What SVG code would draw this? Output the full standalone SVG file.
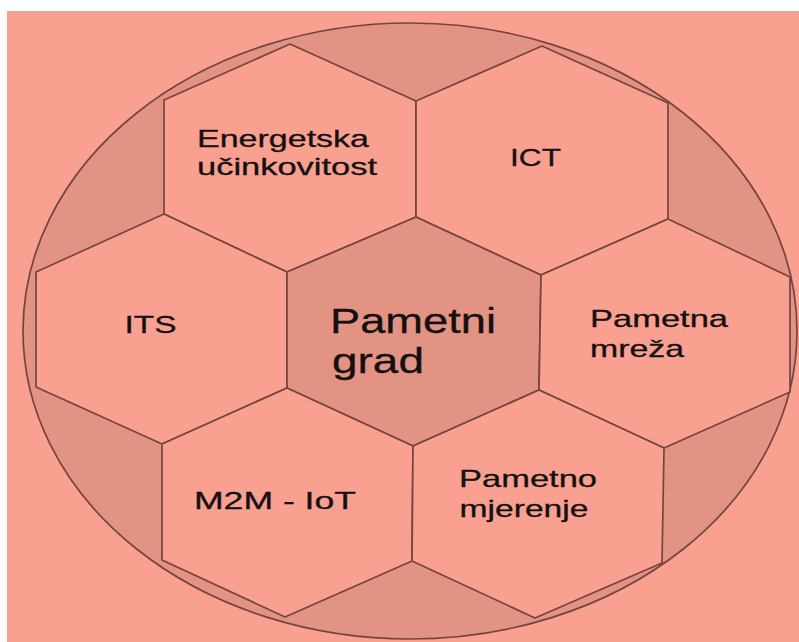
<svg xmlns="http://www.w3.org/2000/svg" width="799" height="642" viewBox="0 0 799 642">
<style>
.hex{fill:#F9A090;stroke:#74453F;stroke-width:1.7;stroke-linejoin:round}
.hexc{fill:#E39384;stroke:#74453F;stroke-width:1.7;stroke-linejoin:round}
.lbl{font-family:"Liberation Sans",Arial,sans-serif;font-size:24px;fill:#141010;stroke:#141010;stroke-width:0.3}
.big{font-family:"Liberation Sans",Arial,sans-serif;font-size:35px;fill:#141010;stroke:#141010;stroke-width:0.3}
</style>
<rect x="0" y="0" width="799" height="642" fill="#FFFFFF"/>
<rect x="7" y="11" width="792" height="631" fill="#F9A090"/>
<ellipse id="ball" cx="410" cy="331" rx="387" ry="308" fill="#E39384" stroke="#74453F" stroke-width="1.7"/>
<g id="connectors"></g>
<g id="energetska">
<polygon class="hex" points="290,44 416,101 416,217 287,272 164,214 164,100"/>
<text class="lbl" x="197" y="147" textLength="172" lengthAdjust="spacingAndGlyphs">Energetska</text>
<text class="lbl" x="197" y="175" textLength="180" lengthAdjust="spacingAndGlyphs">učinkovitost</text>
</g>
<g id="ict">
<polygon class="hex" points="542,46 668,103 668,219 541,275 416,217 416,101"/>
<text class="lbl" x="510" y="166" textLength="51" lengthAdjust="spacingAndGlyphs">ICT</text>
</g>
<g id="its">
<polygon class="hex" points="164,214 287,272 287,388 162,444 36,387 36,272"/>
<text class="lbl" x="124.5" y="333" textLength="52" lengthAdjust="spacingAndGlyphs">ITS</text>
</g>
<g id="pametni-grad">
<polygon class="hexc" points="416,217 541,275 539,390 413,446 287,388 287,272"/>
<text class="big" x="330" y="333" textLength="166" lengthAdjust="spacingAndGlyphs">Pametni</text>
<text class="big" x="332" y="373" textLength="92" lengthAdjust="spacingAndGlyphs">grad</text>
</g>
<g id="pametna-mreza">
<polygon class="hex" points="668,219 790,277 790,392 664,448 539,390 541,275"/>
<text class="lbl" x="590" y="327" textLength="138" lengthAdjust="spacingAndGlyphs">Pametna</text>
<text class="lbl" x="590" y="357" textLength="94" lengthAdjust="spacingAndGlyphs">mreža</text>
</g>
<g id="m2m-iot">
<polygon class="hex" points="287,388 413,446 412,561 285,617 162,560 162,444"/>
<text class="lbl" x="194" y="509" textLength="162" lengthAdjust="spacingAndGlyphs">M2M - IoT</text>
</g>
<g id="pametno-mjerenje">
<polygon class="hex" points="539,390 664,448 662,563 535,618 412,561 413,446"/>
<text class="lbl" x="459" y="487" textLength="138" lengthAdjust="spacingAndGlyphs">Pametno</text>
<text class="lbl" x="459.5" y="517" textLength="129" lengthAdjust="spacingAndGlyphs">mjerenje</text>
</g>
</svg>
